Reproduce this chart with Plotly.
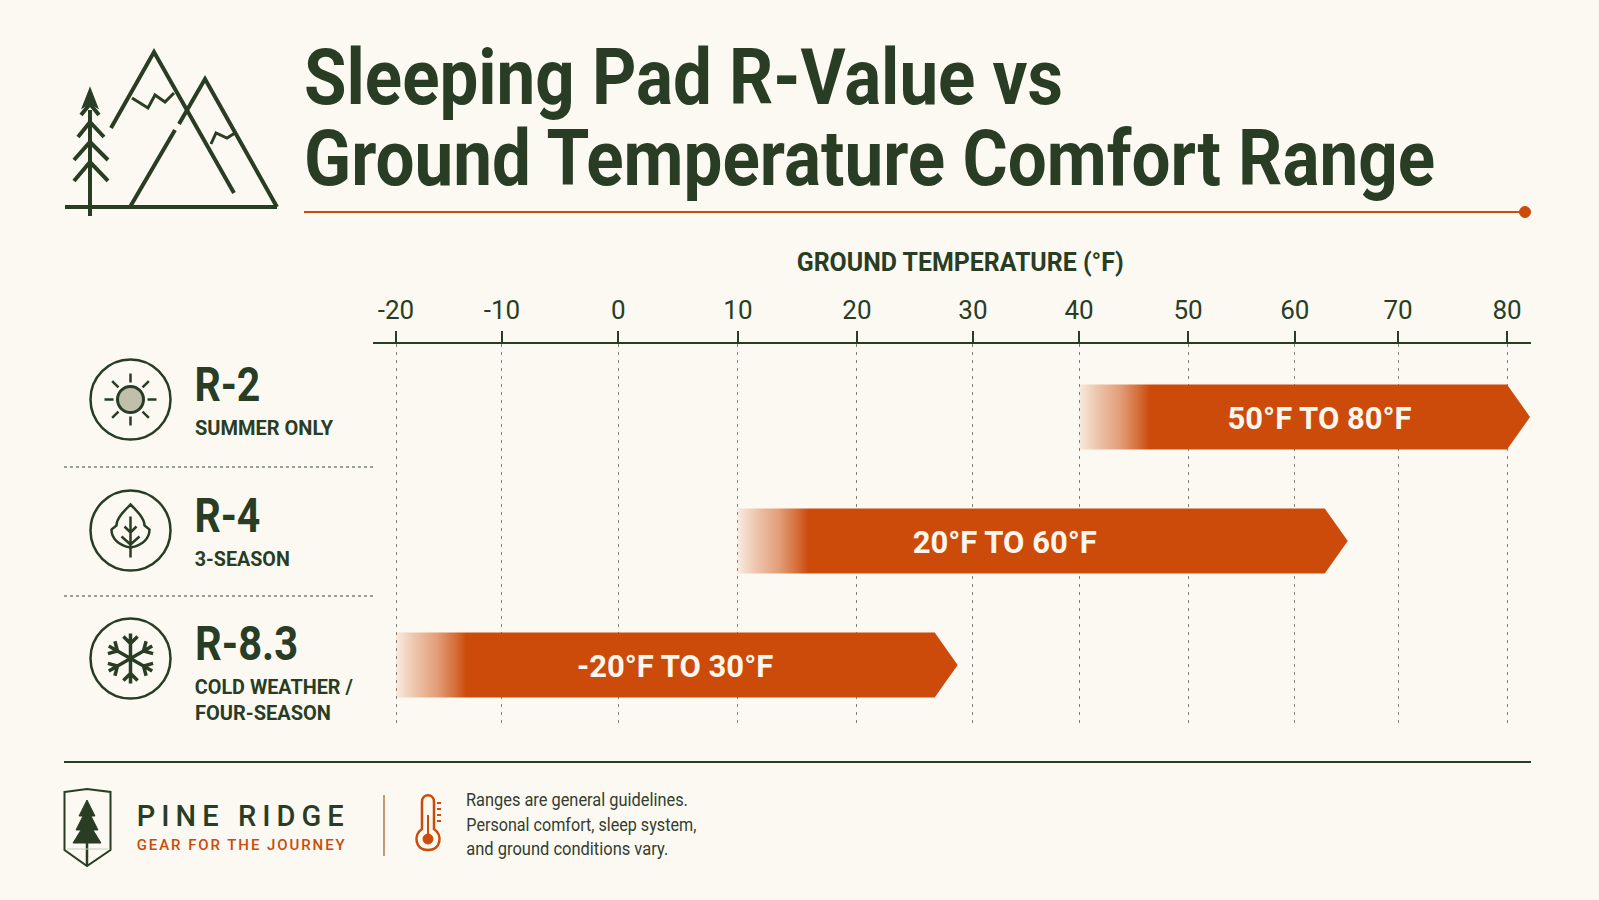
import re, math, json
import numpy as np
import plotly.graph_objects as go

W, H = 1599, 900
BG = "#FBF9F1"
DARK = "#293D25"
ORANGE = "#CC4A0A"
ROBOTO = "Roboto"

# ---------- data ----------
tick_labels = ["-20", "-10", "0", "10", "20", "30", "40", "50", "60", "70", "80"]
tick_temps = [-20, -10, 0, 10, 20, 30, 40, 50, 60, 70, 80]
# The reference axis is slightly uneven: where each labelled tick really sits.
tick_axis = [-20, -10.46, 0, 10.78, 21.49, 31.93, 41.48, 51.29, 60.9, 70.2, 80]

r_labels = ["R-2", "R-4", "R-8.3"]
r_widths = [66, 66, 103]
r_subs = [["SUMMER ONLY"], ["3-SEASON"], ["COLD WEATHER /", "FOUR-SEASON"]]
r_sub_widths = [[138], [95], [158, 136]]
bar_start = [40, 10, -20]
bar_end = [80, 62.9, 26.7]
bar_text = ["50°F TO 80°F", "20°F TO 60°F", "-20°F TO 30°F"]
bar_text_x = [62.4, 33, 4.75]

title_lines = ["Sleeping Pad R-Value vs", "Ground Temperature Comfort Range"]
title_widths = [759, 1131]
note_lines = ["Ranges are general guidelines.", "Personal comfort, sleep system,", "and ground conditions vary."]
note_widths = [222, 230, 202]

# ---------- helpers ----------
def warp(t):
    return np.interp(t, tick_temps, tick_axis)

shapes, annots, fit = [], [], {}

def conv(d, ox=0, oy=0):
    return re.sub(r"(-?[\d.]+),(-?[\d.]+)",
                  lambda m: f"{(float(m[1])+ox)/W:.5f},{1-(float(m[2])+oy)/H:.5f}", d)

def path(d, ox=0, oy=0, color=DARK, width=3, fill=None):
    shapes.append(dict(type="path", xref="paper", yref="paper", path=conv(d, ox, oy),
                       line=dict(color=color, width=width),
                       fillcolor=fill if fill else "rgba(0,0,0,0)"))

def seg(x0, y0, x1, y1, color=DARK, width=2, dash="solid"):
    shapes.append(dict(type="line", xref="paper", yref="paper", x0=x0/W, x1=x1/W,
                       y0=1-y0/H, y1=1-y1/H, line=dict(color=color, width=width, dash=dash)))

def circle(cx, cy, r, color=DARK, width=2.5, fill=None):
    shapes.append(dict(type="circle", xref="paper", yref="paper", x0=(cx-r)/W, x1=(cx+r)/W,
                       y0=1-(cy+r)/H, y1=1-(cy-r)/H, line=dict(color=color, width=width),
                       fillcolor=fill if fill else "rgba(0,0,0,0)"))

def text(s, left, y, width, size, color=DARK, weight=700, mode="spacingAndGlyphs"):
    """Text fitted to the width it has in the reference (no condensed font is installed)."""
    annots.append(dict(text=s, x=(left + width/2)/W, y=1-y/H, xref="paper", yref="paper", showarrow=False,
                       xanchor="center", yanchor="middle", borderpad=0,
                       font=dict(family=ROBOTO, size=size, color=color, weight=weight)))
    fit[s] = [width, mode]

# ---------- header ----------
text(title_lines[0], 303.5, 77, title_widths[0], 78)
text(title_lines[1], 303.5, 158.5, title_widths[1], 78)
seg(304, 212, 1525, 212, ORANGE, 2)
circle(1525, 212, 5.5, ORANGE, 1, ORANGE)

# mountain logo
LW = 4
path("M65,207 L277,207", width=LW)
path("M111,128 L154,52 L234,193", width=LW)
path("M130,207 L175,130 M179,124 L205,79 L277,207", width=LW)
path("M132,98 L148,108 L155,95 L165,102 L174,93", width=3)
path("M211,144 L216,133 L227,138 L235,133", width=3)
path("M90,110 L90,216", width=LW)
path("M90,89 L83,107 L90,103 L97,107 Z", color=DARK, width=2, fill=DARK)
path("M81,115 L90,104 L99,115", width=LW)
path("M78,137 L90,122 L104,137", width=LW)
path("M74,160 L90,142 L108,160", width=LW)
path("M74,181 L90,162 L108,181", width=LW)

# ---------- row icons ----------
centers = [(130.5, 399.5), (130.5, 530.5), (130.5, 658.5)]
for c in centers:
    circle(c[0], c[1], 40, DARK, 2.5)
cx, cy = centers[0]
circle(cx, cy, 13, DARK, 3, "#BFC0AB")
for k in range(8):
    a = k * math.pi / 4
    seg(cx+17*math.cos(a), cy+17*math.sin(a), cx+26*math.cos(a), cy+26*math.sin(a), DARK, 2.5)
cx, cy = centers[1]
path("M0,-26 C7,-19 14,-12 14,-5 L19,-1 C19,8 12,15 0,17 C-12,15 -19,8 -19,-1 L-14,-5 C-14,-12 -7,-19 0,-26 Z", cx, cy, width=2.5)
path("M0,-14 L0,27 M-9,6 L0,14 L9,6 M-6,-4 L0,2 L6,-4", cx, cy, width=2.5)
cx, cy = centers[2]
for k in range(6):
    a = math.pi/2 + k * math.pi / 3
    ux, uy = math.cos(a), math.sin(a)
    ex, ey = 25*ux, 25*uy
    bx, by = 15*ux, 15*uy
    pts = []
    for s in (-1, 1):
        b = a + s * math.pi / 4
        pts.append((bx + 10*math.cos(b), by + 10*math.sin(b)))
    path(f"M0,0 L{ex:.1f},{ey:.1f} M{pts[0][0]:.1f},{pts[0][1]:.1f} L{bx:.1f},{by:.1f} L{pts[1][0]:.1f},{pts[1][1]:.1f}", cx, cy, width=3.5)

# row labels
r_y = [384, 515, 643]
sub_y = [[428], [559], [687, 713]]
for lab, lw, ry, subs, sw, ys in zip(r_labels, r_widths, r_y, r_subs, r_sub_widths, sub_y):
    text(lab, 194.5, ry, lw, 49)
    for s, w_, yy in zip(subs, sw, ys):
        text(s, 195, yy, w_, 20)
for yy in (467, 596):
    seg(64, yy, 373, yy, "#7C8476", 1.5, "dot")

# axis title
text("GROUND TEMPERATURE (°F)", 796, 263, 327, 25)

# ---------- footer ----------
seg(64, 762, 1531, 762, DARK, 2)
path("M64.5,792 L87,789 L110.5,792 L110.5,850 L87,866 L64.5,850 Z", width=2)
path("M87,800 L95,816 L91,816 L98,830 L93,830 L101,843 L73,843 L81,830 L76,830 L83,816 L79,816 Z", color=DARK, width=1, fill=DARK)
path("M87,843 L87,866", width=2.5)
seg(67, 849, 108, 849, "#C9CCBE", 1)
text("PINE RIDGE", 136.5, 816, 207, 29, DARK, 500, "spacing")
text("GEAR FOR THE JOURNEY", 137, 845, 208, 15, ORANGE, 500, "spacing")
seg(384, 795, 384, 856, "#B5784F", 1.5)
path("M422,829 L422,802 C422,793 434,793 434,802 L434,829 C443,835 441,850 428,850 C415,850 413,835 422,829 Z", color=ORANGE, width=2.5)
circle(428, 839, 5, ORANGE, 1, ORANGE)
seg(428, 815, 428, 836, ORANGE, 2)
for yy in (803, 809, 815, 821):
    seg(437, yy, 441, yy, ORANGE, 2)
for s, w_, yy in zip(note_lines, note_widths, (799, 824, 848)):
    text(s, 466, yy, w_, 18, "#333D30", 400)

# ---------- chart ----------
fig = go.Figure()
half = 0.262
tip = 2.07
fade = 6.7
for i, (s, e) in enumerate(zip(bar_start, bar_end)):
    x0, x1 = float(warp(s)), float(warp(e))
    fig.add_trace(go.Scatter(
        x=[x0, x1, x1 + tip, x1, x0, x0],
        y=[i - half, i - half, i, i + half, i + half, i - half],
        mode="lines", line=dict(width=0), fill="toself", hoverinfo="skip", showlegend=False,
        fillgradient=dict(type="horizontal", start=x0, stop=x0 + fade,
                          colorscale=[[0, "rgba(204,74,10,0.08)"], [0.25, "rgba(204,74,10,0.3)"],
                                      [0.55, "rgba(204,74,10,0.52)"], [0.8, "rgba(204,74,10,0.8)"],
                                      [0.95, "rgba(204,74,10,1)"], [1, "rgba(204,74,10,1)"]]),
    ))
fig.add_trace(go.Scatter(
    x=warp(bar_text_x), y=[i + 0.035 for i in range(3)], mode="text", text=bar_text,
    hoverinfo="skip", showlegend=False, textposition="middle center",
    textfont=dict(family=ROBOTO, size=31, color="#FDF6EC", weight=700),
))

fig.update_layout(
    width=W, height=H, margin=dict(l=0, r=0, t=0, b=0), autosize=False,
    paper_bgcolor=BG, plot_bgcolor=BG, showlegend=False,
    shapes=shapes, annotations=annots,
    xaxis=dict(domain=[373/W, 1531/W], range=[-22.07, 82.16], side="top", anchor="y",
               tickmode="array", tickvals=tick_axis, ticktext=tick_labels,
               ticks="outside", ticklen=11, tickwidth=1.5, tickcolor=DARK,
               tickfont=dict(family=ROBOTO, size=26, color=DARK), ticklabelstandoff=2,
               showline=True, linecolor=DARK, linewidth=2, zeroline=False,
               showgrid=True, gridcolor="#7E8377", gridwidth=1, griddash="3px,5px"),
    yaxis=dict(domain=[1-723/H, 1-344/H], range=[2.468, -0.589], visible=False,
               showgrid=False, zeroline=False),
)

post = """
document.body.style.margin='0';
document.body.style.overflow='hidden';
var fit = %s;
document.querySelectorAll('.annotation-text').forEach(function(t){
  var f = fit[t.textContent];
  if(f){t.setAttribute('textLength', f[0]); t.setAttribute('lengthAdjust', f[1]);}
});
""" % json.dumps(fit, ensure_ascii=False)
fig.write_html("out.html", post_script=post, config=dict(displayModeBar=False))
